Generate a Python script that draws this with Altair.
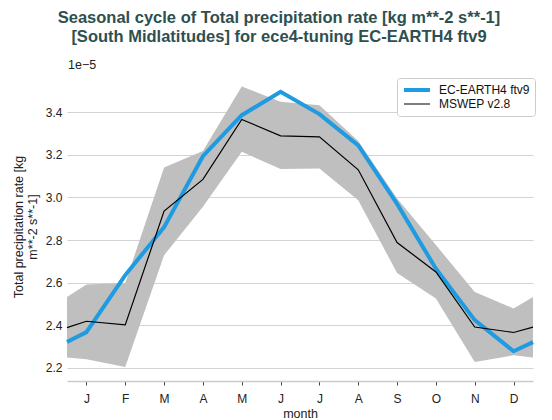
import altair as alt
import pandas as pd

# x positions (months; 0.5 and 12.5 are the cyclic edges of the plot)
MONTHS = [0.5, 1, 2, 3, 4, 5, 6, 7, 8, 9, 10, 11, 12, 12.5]
MONTH_LABELS = ["J", "F", "M", "A", "M", "J", "J", "A", "S", "O", "N", "D"]

# values in units of 1e-5 kg m**-2 s**-1
EC_EARTH = [2.32, 2.367, 2.635, 2.86, 3.194, 3.387, 3.497, 3.392, 3.245, 2.97, 2.665, 2.423, 2.277, 2.32]
MSWEP = [2.388, 2.418, 2.401, 2.936, 3.085, 3.367, 3.290, 3.285, 3.130, 2.788, 2.650, 2.391, 2.365, 2.390]
MSWEP_LOW = [2.247, 2.239, 2.203, 2.728, 2.956, 3.215, 3.134, 3.136, 2.987, 2.645, 2.525, 2.226, 2.258, 2.247]
MSWEP_HIGH = [2.532, 2.591, 2.598, 3.141, 3.219, 3.522, 3.450, 3.434, 3.265, 2.995, 2.776, 2.556, 2.478, 2.532]

SERIES = ["EC-EARTH4 ftv9", "MSWEP v2.8"]
COLORS = ["#1f9be1", "#000000"]
WIDTHS = [4, 1.2]
Y_TICKS = [2.2, 2.4, 2.6, 2.8, 3.0, 3.2, 3.4]

FONT = "Liberation Sans"

lines = pd.DataFrame(
    {
        "month": MONTHS * 2,
        "value": EC_EARTH + MSWEP,
        "series": [SERIES[0]] * len(MONTHS) + [SERIES[1]] * len(MONTHS),
    }
)
band = pd.DataFrame({"month": MONTHS, "low": MSWEP_LOW, "high": MSWEP_HIGH})

label_expr = "[" + ",".join(f"'{m}'" for m in MONTH_LABELS) + "][datum.value - 1]"

x_scale = alt.Scale(domain=[0.5, 12.5], nice=False, zero=False)
y_scale = alt.Scale(domain=[2.137, 3.59], nice=False, zero=False)

x_axis = alt.Axis(
    values=list(range(1, 13)),
    labelExpr=label_expr,
    title="month",
    grid=False,
    domain=True,
    domainColor="#cccccc",
    domainWidth=1.5,
    ticks=True,
    tickColor="#444444",
    tickSize=4,
    labelFontSize=12,
    labelColor="#222222",
    labelPadding=8,
    titleFontSize=12.5,
    titleFontWeight="normal",
    titleColor="#222222",
    titlePadding=3,
    labelFont=FONT,
    titleFont=FONT,
)
y_axis = alt.Axis(
    values=Y_TICKS,
    format=".1f",
    title=["Total precipitation rate [kg", "m**-2 s**-1]"],
    grid=True,
    gridColor="#d4d4d4",
    gridWidth=1,
    domain=False,
    ticks=False,
    labelFontSize=12,
    labelColor="#222222",
    labelPadding=5,
    titleFontSize=12.5,
    titleFontWeight="normal",
    titleColor="#222222",
    titlePadding=6,
    titleLineHeight=14,
    labelFont=FONT,
    titleFont=FONT,
)

area = alt.Chart(band).mark_area(color="#bfbfbf", opacity=1).encode(
    x=alt.X("month:Q", scale=x_scale, axis=x_axis),
    y=alt.Y("low:Q", scale=y_scale, axis=y_axis),
    y2="high:Q",
)

legend = alt.Legend(
    title=None,
    orient="none",
    legendX=330,
    legendY=6,
    fillColor="white",
    strokeColor="#cccccc",
    cornerRadius=3,
    padding=5,
    symbolType="stroke",
    symbolSize=676,
    labelFontSize=12,
    labelFont=FONT,
    labelColor="#111111",
    labelOffset=7,
    clipHeight=14,
    rowPadding=0,
)

line = alt.Chart(lines).mark_line().encode(
    x=alt.X("month:Q", scale=x_scale),
    y=alt.Y("value:Q", scale=y_scale),
    color=alt.Color("series:N", scale=alt.Scale(domain=SERIES, range=COLORS), legend=legend),
    strokeWidth=alt.StrokeWidth("series:N", scale=alt.Scale(domain=SERIES, range=WIDTHS), legend=legend),
)

exp_label = alt.Chart(pd.DataFrame({"t": ["1e\u22125"]})).mark_text(
    align="left", baseline="middle", fontSize=12.5, font=FONT, color="#222222"
).encode(text="t:N", x=alt.value(1), y=alt.value(-7))

chart = (
    alt.layer(area, line, exp_label)
    .properties(
        width=466,
        height=309,
        padding={"left": 59, "top": 64, "right": 11, "bottom": 39},
        autosize=alt.AutoSizeParams(type="none"),
        title=alt.TitleParams(
            text=[
                "Seasonal cycle of Total precipitation rate [kg m**-2 s**-1]",
                "[South Midlatitudes] for ece4-tuning EC-EARTH4 ftv9",
            ],
            fontSize=16.5,
            fontWeight="bold",
            font=FONT,
            color="#2f4f4f",
            anchor="middle",
            dx=-21,
            offset=14,
            lineHeight=19,
        ),
    )
    .configure_view(stroke=None)
)

chart.save("out.html", embed_options={"renderer": "svg", "actions": False})
